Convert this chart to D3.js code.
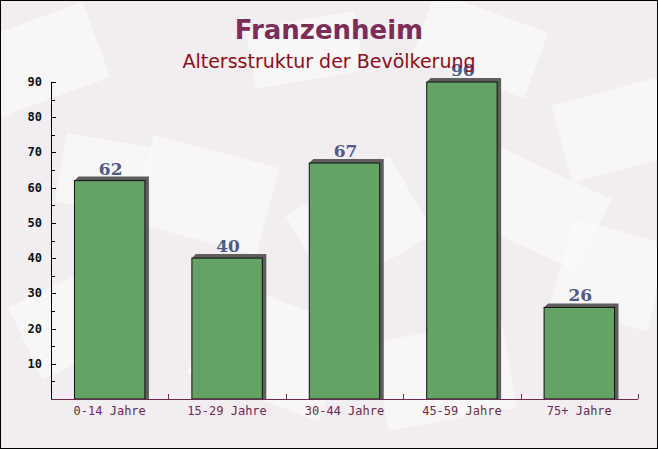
<!DOCTYPE html>
<html><head><meta charset="utf-8">
<script src="https://cdn.jsdelivr.net/npm/d3@7"></script>
<style>body{margin:0;padding:0;background:#fff}svg{display:block}</style>
</head><body>
<script>
const categories = ["0-14 Jahre","15-29 Jahre","30-44 Jahre","45-59 Jahre","75+ Jahre"];
const values = [62, 40, 67, 90, 26];
const yTicks = [10,20,30,40,50,60,70,80,90];
const title = "Franzenheim";
const subtitle = "Altersstruktur der Bevölkerung";

const W = 658, H = 449;
const svg = d3.select("body").append("svg").attr("width", W).attr("height", H);

// background
svg.append("rect").attr("x",0).attr("y",0).attr("width",W).attr("height",H).attr("fill","#f1edf0");
const deco = [
  [-20,20,120,80,-20],[140,150,130,90,15],[420,10,120,70,20],[560,90,110,80,-15],
  [20,280,110,80,-25],[200,300,140,100,20],[380,330,130,90,-10],[560,230,100,90,15],
  [300,180,120,90,-30],[60,140,90,70,10],[480,170,120,80,25],[250,20,110,60,-10]
];
const dg = svg.append("g");
deco.forEach(d => {
  dg.append("rect").attr("x",d[0]).attr("y",d[1]).attr("width",d[2]).attr("height",d[3])
    .attr("fill","#fbf9fa").attr("opacity",0.7)
    .attr("transform",`rotate(${d[4]},${d[0]+d[2]/2},${d[1]+d[3]/2})`);
});

const m = {left:51, right:638, top:82, bottom:399};
const x = d3.scaleBand().domain(categories).range([m.left, m.right]).paddingInner(0.4).paddingOuter(0.2);
const y = d3.scaleLinear().domain([0,90]).range([m.bottom, m.top]);
const band = (m.right - m.left)/categories.length;

// bars with shadow
const off = 4;
const bars = svg.append("g");
categories.forEach((c,i) => {
  const x0 = x(c), w = x.bandwidth(), yt = y(values[i]), yb = y(0);
  bars.append("path")
    .attr("d", `M${x0},${yt} L${x0+off},${yt-off} L${x0+w+off},${yt-off} L${x0+w+off},${yb} L${x0+w},${yb} Z`)
    .attr("fill","#5e5e5e");
  bars.append("rect").attr("x",x0).attr("y",yt).attr("width",w).attr("height",yb-yt)
    .attr("fill","#65a266").attr("stroke","#111").attr("stroke-width",1);
  svg.append("text").attr("x",x0+w/2+1).attr("y",yt-off-2).attr("text-anchor","middle")
    .attr("font-family","'DejaVu Serif', serif").attr("font-weight","bold").attr("font-size",17)
    .attr("fill","#4f5b86").text(values[i]);
});

// y axis
const ya = svg.append("g");
ya.append("line").attr("x1",m.left+0.5).attr("x2",m.left+0.5).attr("y1",m.top).attr("y2",m.bottom).attr("stroke","#000");
d3.range(5,91,5).forEach(v => {
  const major = v % 10 === 0;
  ya.append("line").attr("x1",m.left).attr("x2",m.left+(major?5:4)).attr("y1",Math.round(y(v))+0.5).attr("y2",Math.round(y(v))+0.5).attr("stroke","#000");
});
yTicks.forEach(v => {
  ya.append("text").attr("x",42).attr("y",y(v)+4).attr("text-anchor","end")
    .attr("font-family","'DejaVu Sans Mono', monospace").attr("font-weight","bold").attr("font-size",12)
    .attr("fill","#111").text(v);
});

// x axis
const xa = svg.append("g");
xa.append("line").attr("x1",m.left).attr("x2",m.right).attr("y1",m.bottom+0.5).attr("y2",m.bottom+0.5).attr("stroke","#6e2a4e");
d3.range(1,categories.length+1).forEach(i => {
  const xx = Math.round(m.left + band*i)+0.5;
  xa.append("line").attr("x1",xx).attr("x2",xx).attr("y1",m.bottom).attr("y2",m.bottom-5).attr("stroke","#6e2a4e");
});
categories.forEach(c => {
  xa.append("text").attr("x",x(c)+x.bandwidth()/2).attr("y",m.bottom+16).attr("text-anchor","middle")
    .attr("font-family","'DejaVu Sans Mono', monospace").attr("font-size",12)
    .attr("fill","#6e2a4e").text(c);
});

// titles
svg.append("text").attr("x",W/2).attr("y",39).attr("text-anchor","middle")
  .attr("font-family","'DejaVu Sans', sans-serif").attr("font-weight","bold").attr("font-size",26)
  .attr("fill","#7b2d57").text(title);
svg.append("text").attr("x",W/2).attr("y",68).attr("text-anchor","middle")
  .attr("font-family","'DejaVu Sans', sans-serif").attr("font-size",19)
  .attr("fill","#8b0f1a").text(subtitle);

// border
svg.append("rect").attr("x",0.5).attr("y",0.5).attr("width",W-1).attr("height",H-1).attr("fill","none").attr("stroke","#000");
</script>
</body></html>
